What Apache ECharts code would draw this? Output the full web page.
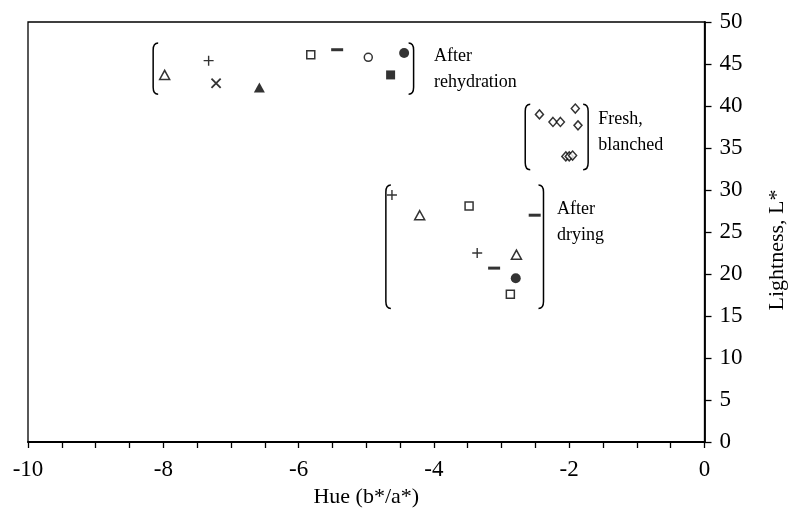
<!DOCTYPE html>
<html>
<head>
<meta charset="utf-8">
<script src="https://cdn.jsdelivr.net/npm/echarts@6/dist/echarts.min.js"></script>
<style>
html,body{margin:0;padding:0;background:#fff;}
#chart{width:791px;height:515px;}
</style>
</head>
<body>
<div id="chart"></div>
<script>
// ---- data (Hue b*/a*, Lightness L*) ----
const triOpen      = [[-7.98, 43.7], [-4.21, 27.0], [-2.78, 22.3]];
const plusPts      = [[-7.33, 45.4], [-4.62, 29.4], [-3.36, 22.5]];
const crossPts     = [[-7.22, 42.7]];
const triFilled    = [[-6.58, 42.2]];
const squareOpen   = [[-5.82, 46.1], [-3.48, 28.1], [-2.87, 17.6]];
const dashPts      = [[-5.43, 46.7], [-2.51, 27.0], [-3.11, 20.7]];
const circleOpen   = [[-4.97, 45.8]];
const circleFilled = [[-4.44, 46.3], [-2.79, 19.5]];
const squareFilled = [[-4.64, 43.7]];
const diamondPts   = [[-2.44, 39.0], [-2.24, 38.1], [-2.13, 38.1], [-1.91, 39.7], [-1.87, 37.7],
                      [-2.05, 34.0], [-2.00, 34.0], [-1.95, 34.1]];

// group brackets and labels (data units)
const groupLabels    = ['After\nrehydration', 'Fresh,\nblanched', 'After\ndrying'];
const bracketXLeft   = [-8.15, -2.65, -4.71];
const bracketXRight  = [-4.30, -1.72, -2.38];
const bracketYTop    = [47.5, 40.2, 30.6];
const bracketYBottom = [41.4, 32.4, 15.9];
const labelX         = [-4.00, -1.57, -2.18];
const labelY         = [44.4, 36.9, 26.1];

// axes
const xMin = -10, xMax = 0, xStep = 2;
const yMin = 0, yMax = 50, yStep = 5;

const FONT = "'Liberation Serif', 'Times New Roman', serif";
const PLUS = 'path://M4.3,0h1.4v10h-1.4zM0,4.3h10v1.4h-10z';
const DASH = 'path://M0,0h10v3h-10z';

function sc(data, symbol, size, filled, extra) {
  return Object.assign({
    type: 'scatter', data: data, symbol: symbol, symbolSize: size,
    itemStyle: filled ? {color: '#000'} : {color: '#fff', borderColor: '#000', borderWidth: 1.5},
    emphasis: {disabled: true}, z: 5
  }, extra || {});
}

const bracketData = [];
for (let i = 0; i < groupLabels.length; i++) {
  bracketData.push([bracketXLeft[i], bracketYTop[i], bracketYBottom[i], -1]);
  bracketData.push([bracketXRight[i], bracketYTop[i], bracketYBottom[i], 1]);
}
const labelData = groupLabels.map((t, i) => [labelX[i], labelY[i], i]);

const chart = echarts.init(document.getElementById('chart'), null, {renderer: 'canvas'});
chart.setOption({
  animation: false,
  backgroundColor: '#fff',
  grid: {left: 28, right: 86.5, top: 22, bottom: 73, show: true, borderColor: '#000', borderWidth: 1.3,
         containLabel: false, outerBoundsMode: 'none'},
  xAxis: {
    type: 'value', min: xMin, max: xMax, interval: xStep,
    name: 'Hue (b*/a*)', nameLocation: 'middle', nameGap: 44,
    nameTextStyle: {fontFamily: FONT, fontSize: 22, color: '#000'},
    axisLine: {show: true, onZero: false, lineStyle: {color: '#000', width: 1.8}},
    axisTick: {show: true, inside: false, length: 6, lineStyle: {color: '#000', width: 1.3}},
    minorTick: {show: true, splitNumber: 4, length: 6, lineStyle: {color: '#000', width: 1.3}},
    axisLabel: {fontFamily: FONT, fontSize: 23, color: '#000', margin: 16},
    splitLine: {show: false}
  },
  yAxis: {
    type: 'value', position: 'right', min: yMin, max: yMax, interval: yStep,
    name: 'Lightness, L*', nameLocation: 'middle', nameGap: 62, nameRotate: 90,
    nameTextStyle: {fontFamily: FONT, fontSize: 22, color: '#000', padding: [0, 36, 0, 0]},
    axisLine: {show: true, lineStyle: {color: '#000', width: 1.8}},
    axisTick: {show: true, inside: false, length: 7, lineStyle: {color: '#000', width: 1.3}},
    axisLabel: {fontFamily: FONT, fontSize: 23, color: '#000', margin: 15},
    splitLine: {show: false}
  },
  series: [
    sc(triOpen, 'triangle', [10, 9], false),
    sc(plusPts, PLUS, 10, true),
    sc(crossPts, PLUS, 13, true, {symbolRotate: 45}),
    sc(triFilled, 'triangle', [11, 10], true),
    sc(squareOpen, 'rect', 8, false),
    sc(dashPts, DASH, [12, 3], true),
    sc(circleOpen, 'circle', 8, false),
    sc(circleFilled, 'circle', 10, true),
    sc(squareFilled, 'rect', 9, true),
    sc(diamondPts, 'diamond', [8, 9], false),
    {
      type: 'custom', data: bracketData, encode: {x: 0, y: [1, 2]}, silent: true, z: 4,
      renderItem: function (params, api) {
        const x = api.value(0), dir = api.value(3);
        const p1 = api.coord([x, api.value(1)]);
        const p2 = api.coord([x, api.value(2)]);
        const w = 5 * (-dir), r = 7;
        const d = 'M' + (p1[0] + w) + ',' + p1[1] +
                  ' Q' + p1[0] + ',' + p1[1] + ' ' + p1[0] + ',' + (p1[1] + r) +
                  ' L' + p2[0] + ',' + (p2[1] - r) +
                  ' Q' + p2[0] + ',' + p2[1] + ' ' + (p2[0] + w) + ',' + p2[1];
        return {type: 'path', shape: {pathData: d}, style: {fill: null, stroke: '#000', lineWidth: 1.5}};
      }
    },
    {
      type: 'custom', data: labelData, encode: {x: 0, y: 1}, silent: true, z: 4,
      renderItem: function (params, api) {
        const p = api.coord([api.value(0), api.value(1)]);
        return {type: 'text', x: p[0], y: p[1], style: {
          text: groupLabels[api.value(2)], fill: '#000', font: '18px ' + FONT,
          textAlign: 'left', textVerticalAlign: 'middle', lineHeight: 26
        }};
      }
    }
  ]
});
</script>
</body>
</html>
